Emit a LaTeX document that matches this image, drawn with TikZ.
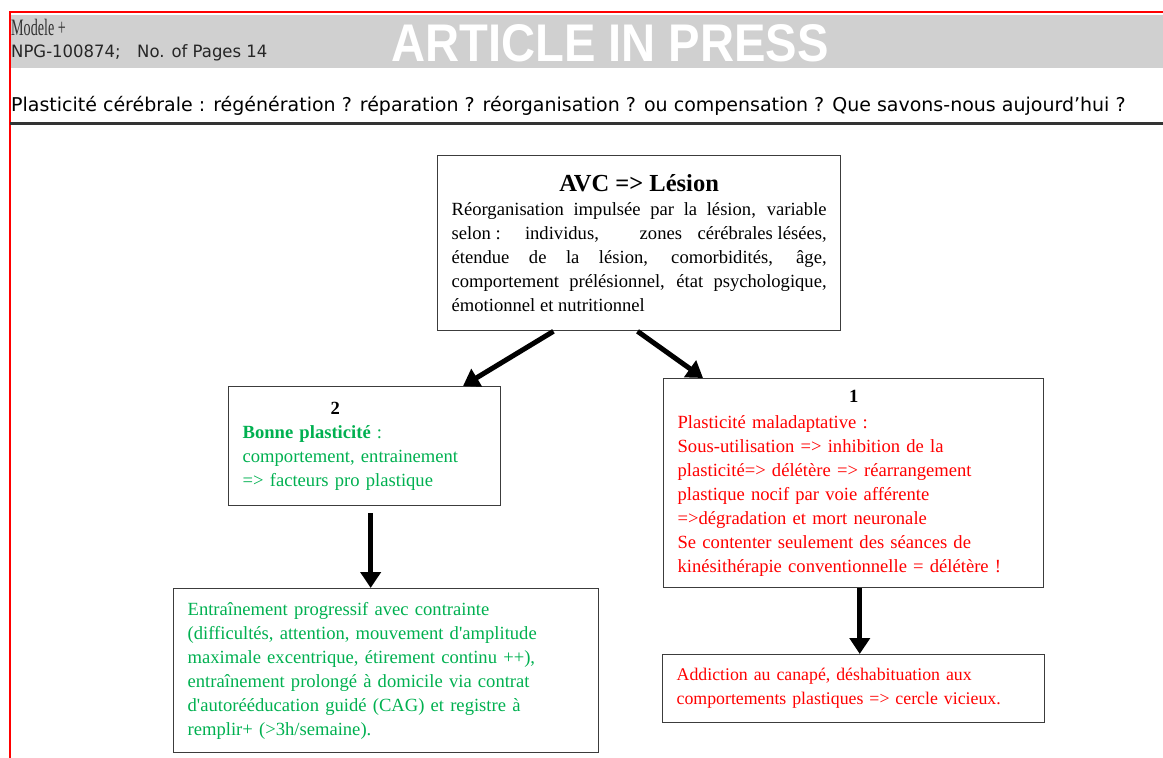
\documentclass[tikz,border=0pt]{standalone}
\usepackage{fontspec}
\setmainfont{Liberation Serif}
\newfontfamily\hdr{Liberation Sans}
\newfontfamily\tah{DejaVu Sans}
\newfontfamily\rawserif{Liberation Serif}
\usetikzlibrary{arrows.meta,calc}
\definecolor{pgreen}{RGB}{0,176,80}
\definecolor{pred}{RGB}{255,0,0}
\definecolor{band}{RGB}{208,208,208}
\definecolor{boxline}{RGB}{60,60,60}
\begin{document}
\begin{tikzpicture}[x=1pt,y=-1pt,
  box/.style={draw=boxline,line width=1.3pt,inner xsep=14pt,inner ysep=0pt,anchor=north west,align=left,font=\fontsize{18.6}{24}\selectfont},
  arr/.style={line width=5pt,-{Triangle[length=16pt,width=20pt]},black},
  hd/.style={inner sep=0pt,anchor=base west}]
\useasboundingbox (0,0) rectangle (1163,758);
% header
\fill[band] (10,15) rectangle (1163,68);
\draw[pred,line width=1.2pt] (1163,12) -- (10,12) -- (10,758);
\node[hd,font=\fontsize{23.5}{23.5}\selectfont,text=black!80] (mod) at (11,35) {\scalebox{0.6}[1]{Modele +}};
\node[hd,font=\tah\fontsize{17}{17}\selectfont,text=black!85] (npg) at (11,57) {\scalebox{0.97}[1]{NPG-100874;\quad No. of Pages 14}};
\node[inner sep=0pt,anchor=base,text=white,font=\hdr\bfseries\fontsize{53}{53}\selectfont] (aip) at (610,61) {\scalebox{0.89}[1]{ARTICLE IN PRESS}};
\node[hd,font=\tah\fontsize{19}{19}\selectfont] (ttl) at (11,111) {Plasticité cérébrale : régénération ? réparation ? réorganisation ? ou compensation ? Que savons-nous aujourd’hui ?};
\draw[black!80,line width=3pt] (10,123) -- (1163,123);
% boxes
\node[box,align=justify,text width=375pt,minimum height=175pt] (top) at (437,155)
 {{\centering\fontsize{24.5}{28}\selectfont\bfseries AVC => Lésion\par}\vspace{0pt}%
 Réorganisation impulsée par la lésion, variable\linebreak
 selon :\hspace{0pt plus 1fil} individus,\hspace{0pt plus 2fil} zones\hspace{0pt plus 0.6fil} cérébrales lésées,\linebreak
 étendue de la lésion, comorbidités, âge,\linebreak
 comportement prélésionnel, état psychologique,\linebreak
 émotionnel et nutritionnel};
\node[box,text width=244pt,minimum height=119pt] (b2) at (228,386)
 {\hspace*{88pt}\textbf{2}\\
  \color{pgreen}\textbf{Bonne plasticité} :\\
  \color{pgreen}comportement, entrainement\\
  \color{pgreen}=> facteurs pro plastique};
\node[box,text width=352pt,minimum height=209pt] (b1) at (663,378)
 {\makebox[352pt]{\textbf{1}}\\[2pt]
  \color{pred}Plasticité maladaptative :\\
  \color{pred}Sous-utilisation => inhibition de la\\
  \color{pred}plasticité=> délétère => réarrangement\\
  \color{pred}plastique nocif par voie afférente\\
  \color{pred}=>dégradation et mort neuronale\\
  \color{pred}Se contenter seulement des séances de\\
  \color{pred}kinésithérapie conventionnelle = délétère !};
\node[box,text width=397pt,minimum height=164pt,text=pgreen,font=\rawserif\fontsize{18.6}{24}\selectfont] (b3) at (173,588)
 {Entraînement progressif avec contrainte\\
  (difficultés, attention, mouvement d'amplitude\\
  maximale excentrique, étirement continu ++),\\
  entraînement prolongé à domicile via contrat\\
  d'autoréé­ducation guidé (CAG) et registre à\\
  remplir+ (>3h/semaine).};
\node[box,text width=354pt,minimum height=68pt,text=pred,font=\fontsize{17.8}{24}\selectfont] (b4) at (662,654)
 {Addiction au canapé, déshabituation aux\\
  comportements plastiques => cercle vicieux.};
% arrows
\coordinate (aL) at ($(top.south west)!0.288!(top.south east)$);
\coordinate (aLt) at ($(b2.north west)!0.86!(b2.north east)$);
\coordinate (aR) at ($(top.south west)!0.496!(top.south east)$);
\coordinate (aRt) at ($(b1.north west)!0.105!(b1.north east)$);
\coordinate (dL) at ($(b2.south west)!0.522!(b2.south east)+(0,7)$);
\coordinate (dR) at ($(b1.south west)!0.516!(b1.south east)$);
\draw[arr] (aL) -- (aLt);
\draw[arr] (aR) -- (aRt);
\draw[arr] (dL) -- (dL |- b3.north);
\draw[arr] (dR) -- (dR |- b4.north);
\end{tikzpicture}
\end{document}
